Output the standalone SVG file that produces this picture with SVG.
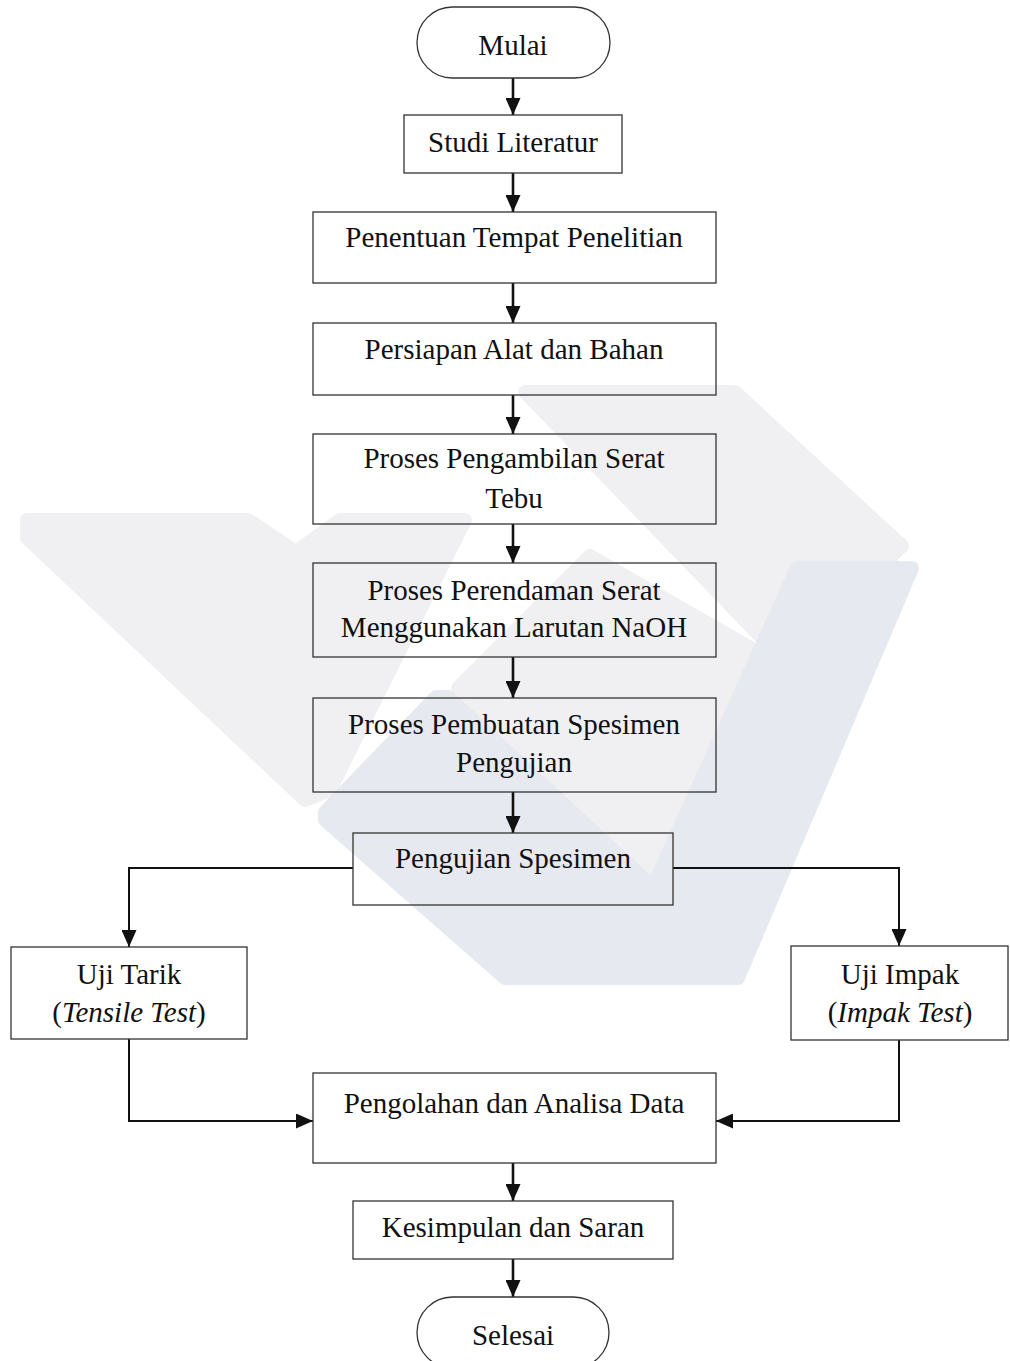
<svg xmlns="http://www.w3.org/2000/svg" width="1010" height="1361" viewBox="0 0 1010 1361">
  <defs>
    <style>
      .box { fill: none; stroke: #333; stroke-width: 1.3; }
      .lbl { font-family: "Liberation Serif", "Times New Roman", serif; font-size: 29px; fill: #111; text-anchor: middle; }
      .it { font-style: italic; }
      .arrow { fill: none; stroke: #111; stroke-width: 2.6; marker-end: url(#ah); }
      .arrowh { fill: none; stroke: #111; stroke-width: 2; marker-end: url(#ah); }
      .wm1 { fill: #f0f0f3; stroke: #f0f0f3; stroke-width: 14; stroke-linejoin: round; }
      .wm2 { fill: #e7e9f0; stroke: #e7e9f0; stroke-width: 14; stroke-linejoin: round; }
    </style>
    <marker id="ah" viewBox="0 0 17 15" markerWidth="17" markerHeight="15" refX="17" refY="7.5" orient="auto" markerUnits="userSpaceOnUse">
      <path d="M0,0 L17,7.5 L0,15 z" fill="#111"/>
    </marker>
  </defs>
  <rect x="0" y="0" width="1010" height="1361" fill="#ffffff"/>

  <g id="watermark">
    <polygon class="wm1" points="27,520 248,520 296,552 340,520 465,520 330,790 305,800 27,538"/>
    <polygon class="wm1" points="525,392 735,392 902,546 785,662"/>
    <polygon class="wm1" points="458,688 590,556 785,668 800,578 660,880"/>
    <polygon class="wm2" points="325,812 436,697 448,697 653,887 797,568 912,568 738,978 505,978 325,820"/>
  </g>

  <g id="connectors">
    <path class="arrow" d="M513,78 V115"/>
    <path class="arrow" d="M513,173 V212"/>
    <path class="arrow" d="M513,283 V323"/>
    <path class="arrow" d="M513,395 V434"/>
    <path class="arrow" d="M513,524 V563"/>
    <path class="arrow" d="M513,657 V698"/>
    <path class="arrow" d="M513,792 V833"/>
    <path class="arrowh" d="M353,868 H129 V947"/>
    <path class="arrowh" d="M673,868 H899 V946"/>
    <path class="arrowh" d="M129,1039 V1121 H313"/>
    <path class="arrowh" d="M899,1040 V1121 H716"/>
    <path class="arrow" d="M513,1163 V1201"/>
    <path class="arrow" d="M513,1259 V1297"/>
  </g>

  <g id="mulai">
    <rect class="box" x="417" y="7" width="193" height="71" rx="35.5" ry="35.5"/>
    <text class="lbl" x="513" y="55">Mulai</text>
  </g>
  <g id="studi-literatur">
    <rect class="box" x="404" y="115" width="218" height="58"/>
    <text class="lbl" x="513" y="152">Studi Literatur</text>
  </g>
  <g id="penentuan">
    <rect class="box" x="313" y="212" width="403" height="71"/>
    <text class="lbl" x="514" y="247">Penentuan Tempat Penelitian</text>
  </g>
  <g id="persiapan">
    <rect class="box" x="313" y="323" width="403" height="72"/>
    <text class="lbl" x="514" y="359">Persiapan Alat dan Bahan</text>
  </g>
  <g id="pengambilan">
    <rect class="box" x="313" y="434" width="403" height="90"/>
    <text class="lbl" x="514" y="468">Proses Pengambilan Serat</text>
    <text class="lbl" x="514" y="508">Tebu</text>
  </g>
  <g id="perendaman">
    <rect class="box" x="313" y="563" width="403" height="94"/>
    <text class="lbl" x="514" y="600">Proses Perendaman Serat</text>
    <text class="lbl" x="514" y="637">Menggunakan Larutan NaOH</text>
  </g>
  <g id="pembuatan">
    <rect class="box" x="313" y="698" width="403" height="94"/>
    <text class="lbl" x="514" y="734">Proses Pembuatan Spesimen</text>
    <text class="lbl" x="514" y="772">Pengujian</text>
  </g>
  <g id="pengujian">
    <rect class="box" x="353" y="833" width="320" height="72"/>
    <text class="lbl" x="513" y="868">Pengujian Spesimen</text>
  </g>
  <g id="uji-tarik">
    <rect class="box" x="11" y="947" width="236" height="92"/>
    <text class="lbl" x="129" y="984">Uji Tarik</text>
    <text class="lbl" x="129" y="1022">(<tspan class="it">Tensile Test</tspan>)</text>
  </g>
  <g id="uji-impak">
    <rect class="box" x="791" y="946" width="217" height="94"/>
    <text class="lbl" x="900" y="984">Uji Impak</text>
    <text class="lbl" x="900" y="1022">(<tspan class="it">Impak Test</tspan>)</text>
  </g>
  <g id="pengolahan">
    <rect class="box" x="313" y="1073" width="403" height="90"/>
    <text class="lbl" x="514" y="1113">Pengolahan dan Analisa Data</text>
  </g>
  <g id="kesimpulan">
    <rect class="box" x="353" y="1201" width="320" height="58"/>
    <text class="lbl" x="513" y="1237">Kesimpulan dan Saran</text>
  </g>
  <g id="selesai">
    <rect class="box" x="417" y="1297" width="192" height="71" rx="35.5" ry="35.5"/>
    <text class="lbl" x="513" y="1345">Selesai</text>
  </g>
</svg>
